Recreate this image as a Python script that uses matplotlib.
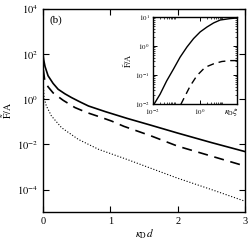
import numpy as np
import matplotlib
matplotlib.use("Agg")
import matplotlib.pyplot as plt
from matplotlib.ticker import FixedLocator, NullFormatter

plt.rcParams['font.family'] = ['Liberation Serif', 'DejaVu Serif']
plt.rcParams['mathtext.fontset'] = 'stix'

# main panel, kappa_D d vs log10(F/A)
kd_solid = [0.0, 0.01, 0.03, 0.075, 0.15, 0.225, 0.325, 0.425, 0.55, 0.675, 0.925, 1.25, 1.6, 2.0, 2.5, 3.0]
logF_solid = [2.0, 1.75, 1.45, 1.04, 0.7, 0.44, 0.24, 0.07, -0.12, -0.30, -0.55, -0.85, -1.15, -1.5, -1.92, -2.32]

kd_dash = [0.005, 0.025, 0.075, 0.15, 0.3, 0.475, 0.65, 0.85, 1.02, 1.2, 1.6, 2.0, 2.5, 3.0]
logF_dash = [1.3, 0.85, 0.55, 0.28, -0.05, -0.37, -0.59, -0.79, -0.97, -1.2, -1.62, -2.08, -2.52, -2.96]

kd_dot = [0.003, 0.015, 0.05, 0.125, 0.275, 0.525, 0.825, 1.25, 2.0, 2.5, 3.0]
logF_dot = [0.8, 0.07, -0.30, -0.74, -1.26, -1.78, -2.22, -2.67, -3.5, -4.0, -4.52]

# inset, log10(kappa_D xi) vs log10(F/A)
logk_in_solid = [-1.94, -1.68, -1.40, -1.11, -0.83, -0.54, -0.26, 0.02, 0.31, 0.59, 0.87, 1.30, 1.58]
logF_in_solid = [-2.01, -1.66, -1.20, -0.79, -0.38, -0.03, 0.26, 0.49, 0.66, 0.80, 0.90, 0.95, 0.97]
logk_in_dash = [-0.80, -0.62, -0.40, -0.12, 0.23, 0.59, 0.94, 1.30, 1.58]
logF_in_dash = [-2.01, -1.72, -1.37, -1.02, -0.73, -0.61, -0.53, -0.50, -0.50]

main_yticks = [1e-4, 1e-2, 1e0, 1e2, 1e4]
main_ylabels = [r'$10^{-4}$', r'$10^{-2}$', r'$10^{0}$', r'$10^{2}$', r'$10^{4}$']

fig = plt.figure(figsize=(2.5, 2.41), dpi=100)
ax = fig.add_axes([0.172, 0.12, 0.808, 0.843])

ax.plot(kd_solid, 10 ** np.array(logF_solid), 'k-', lw=1.2)
ax.plot(kd_dash, 10 ** np.array(logF_dash), 'k--', lw=1.2, dashes=(6, 4))
ax.plot(kd_dot, 10 ** np.array(logF_dot), 'k:', lw=0.8)

ax.set_yscale('log')
ax.set_xlim(0, 3)
ax.set_ylim(1e-5, 1e4)
ax.set_xticks([0, 1, 2, 3])
ax.yaxis.set_major_locator(FixedLocator(main_yticks))
ax.set_yticklabels(main_ylabels)
ax.yaxis.set_minor_locator(FixedLocator([]))
ax.tick_params(direction='in', length=4, width=0.8, top=True, right=True, labelsize=7.5)
for s in ax.spines.values():
    s.set_linewidth(1.0)
ax.set_xlabel(r'$\kappa_{\mathrm{D}}d$', fontsize=8, labelpad=1)
ax.set_ylabel(r'$\tilde{\mathrm{F}}/\mathrm{A}$', fontsize=7, labelpad=2)
ax.text(0.03, 0.97, '(b)', transform=ax.transAxes, fontsize=8, va='top')

# inset
ins = fig.add_axes([0.61, 0.568, 0.338, 0.361])
ins.plot(10 ** np.array(logk_in_solid), 10 ** np.array(logF_in_solid), 'k-', lw=1.0)
ins.plot(10 ** np.array(logk_in_dash), 10 ** np.array(logF_in_dash), 'k--', lw=1.0, dashes=(5, 3.5))
ins.set_xscale('log')
ins.set_yscale('log')
ins.set_xlim(1e-2, 38)
ins.set_ylim(1e-2, 1e1)
ins.xaxis.set_major_locator(FixedLocator([1e-2, 1e0]))
ins.set_xticklabels([r'$10^{-2}$', r'$10^{0}$'])
ins.xaxis.set_minor_locator(FixedLocator([m * 1e-2 for m in range(2, 10)] + [m * 1.0 for m in range(2, 10)]))
ins.xaxis.set_minor_formatter(NullFormatter())
ins.yaxis.set_major_locator(FixedLocator([1e-2, 1e-1, 1e0, 1e1]))
ins.set_yticklabels([r'$10^{-2}$', r'$10^{-1}$', r'$10^{0}$', r'$10^{1}$'])
ins.yaxis.set_minor_locator(FixedLocator([m * 10.0 ** e for e in (-2, -1, 0) for m in range(2, 10)]))
ins.yaxis.set_minor_formatter(NullFormatter())
ins.tick_params(which='both', direction='in', top=True, right=True, labelsize=5)
ins.tick_params(axis='x', pad=2.5)
ins.tick_params(axis='y', pad=2)
ins.tick_params(which='major', length=3, width=0.7)
ins.tick_params(which='minor', length=1.5, width=0.5)
for s in ins.spines.values():
    s.set_linewidth(1.0)
ins.set_ylabel(r'$\tilde{\mathrm{F}}/\mathrm{A}$', fontsize=6, labelpad=1)
ins.text(0.93, -0.09, r'$\kappa_{\mathrm{D}}\xi$', transform=ins.transAxes, fontsize=6.5, ha='center', va='center')

fig.savefig('out.png', dpi=100)
